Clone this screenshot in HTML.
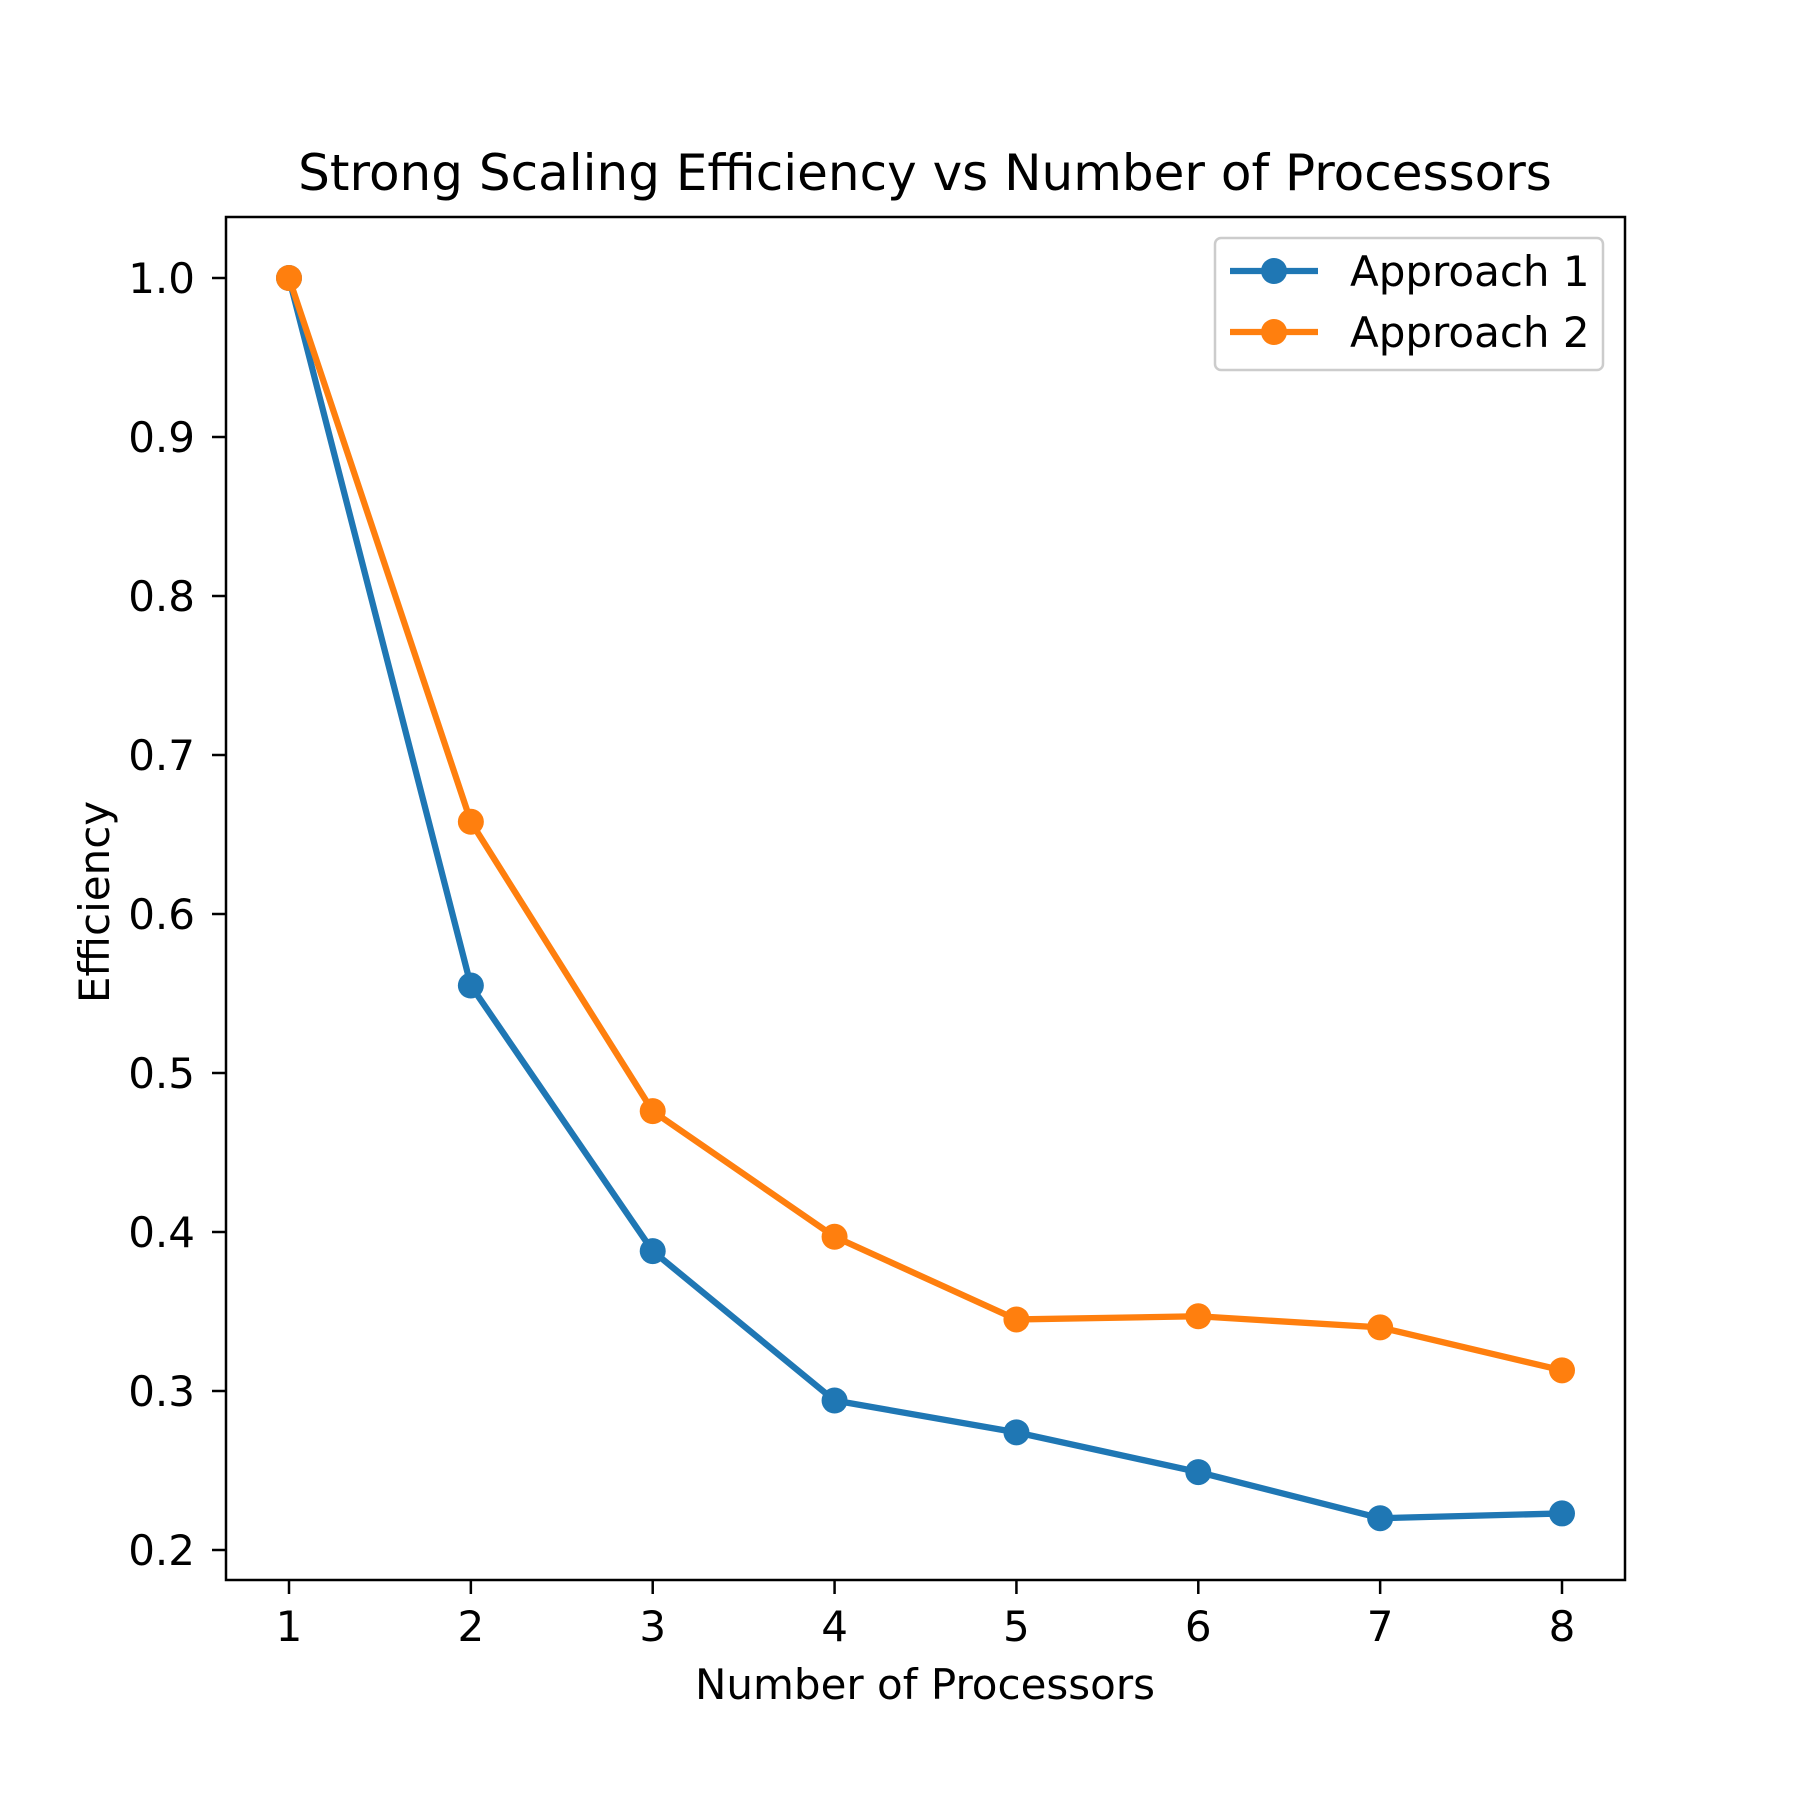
<!DOCTYPE html>
<html><head><meta charset="utf-8"><style>
html,body{margin:0;padding:0;background:#fff}
svg text{font-family:"DejaVu Sans","Liberation Sans",sans-serif;fill:#000}
</style></head><body>
<svg id="chart" width="1800" height="1800" viewBox="0 0 1800 1800" xmlns="http://www.w3.org/2000/svg">
<rect width="1800" height="1800" fill="#fff"/>
<text x="925" y="190" font-size="50" text-anchor="middle">Strong Scaling Efficiency vs Number of Processors</text>
<g id="plot"></g>
<rect x="226" y="217" width="1399" height="1363" fill="none" stroke="#000" stroke-width="2.5"/>
<text x="925" y="1699" font-size="42" text-anchor="middle">Number of Processors</text>
<text x="0" y="0" font-size="42" text-anchor="middle" transform="translate(109,902) rotate(-90)">Efficiency</text>
<g>
<rect x="1215" y="238" width="388" height="132" rx="6" fill="#fff" fill-opacity="0.8" stroke="#ccc" stroke-width="2.5"/>
<g>
<line x1="1230" y1="271" x2="1318" y2="271" stroke="#1f77b4" stroke-width="6.3"/>
<circle cx="1274" cy="271" r="13" fill="#1f77b4"/>
<text x="1350" y="286" font-size="42">Approach 1</text></g>
<g>
<line x1="1230" y1="332" x2="1318" y2="332" stroke="#ff7f0e" stroke-width="6.3"/>
<circle cx="1274" cy="332" r="13" fill="#ff7f0e"/>
<text x="1350" y="347" font-size="42">Approach 2</text></g>
</g>
</svg>
<script>
const categories = [1,2,3,4,5,6,7,8];
const approach1 = [1.0,0.555,0.388,0.294,0.274,0.249,0.220,0.223];
const approach2 = [1.0,0.658,0.476,0.397,0.345,0.347,0.340,0.313];
const yTicks = [0.2,0.3,0.4,0.5,0.6,0.7,0.8,0.9,1.0];
const yTickLabels = ["0.2","0.3","0.4","0.5","0.6","0.7","0.8","0.9","1.0"];
const NS='http://www.w3.org/2000/svg';
const xs=v=>289+(v-1)*(1562-289)/7;
const ys=v=>1550-(v-0.2)*(1550-278)/0.8;
const g=document.getElementById('plot');
function mk(t,a){const e=document.createElementNS(NS,t);for(const k in a)e.setAttribute(k,a[k]);g.appendChild(e);return e;}
categories.forEach(c=>{
  const t=mk('line',{x1:xs(c),x2:xs(c),y1:1580,y2:1594,stroke:'#000','stroke-width':2.5});
  
  
  const l=mk('text',{x:xs(c),y:1641,'font-size':42,'text-anchor':'middle'});
  l.textContent=String(c);
  
  
});
yTicks.forEach((v,i)=>{
  const t=mk('line',{x1:212,x2:226,y1:ys(v),y2:ys(v),stroke:'#000','stroke-width':2.5});
  
  
  const l=mk('text',{x:195,y:ys(v)+15,'font-size':42,'text-anchor':'end'});
  l.textContent=yTickLabels[i];
  
  
});
[[approach1,'#1f77b4','approach-1'],[approach2,'#ff7f0e','approach-2']].forEach(([d,col,nm])=>{
  const p=mk('polyline',{points:d.map((v,i)=>xs(categories[i])+','+ys(v)).join(' '),fill:'none',stroke:col,'stroke-width':6.3,'stroke-linejoin':'round'});
  
  
  d.forEach((v,i)=>{
    const c=mk('circle',{cx:xs(categories[i]),cy:ys(v),r:13,fill:col});
    
    
  });
});
</script>
</body></html>
